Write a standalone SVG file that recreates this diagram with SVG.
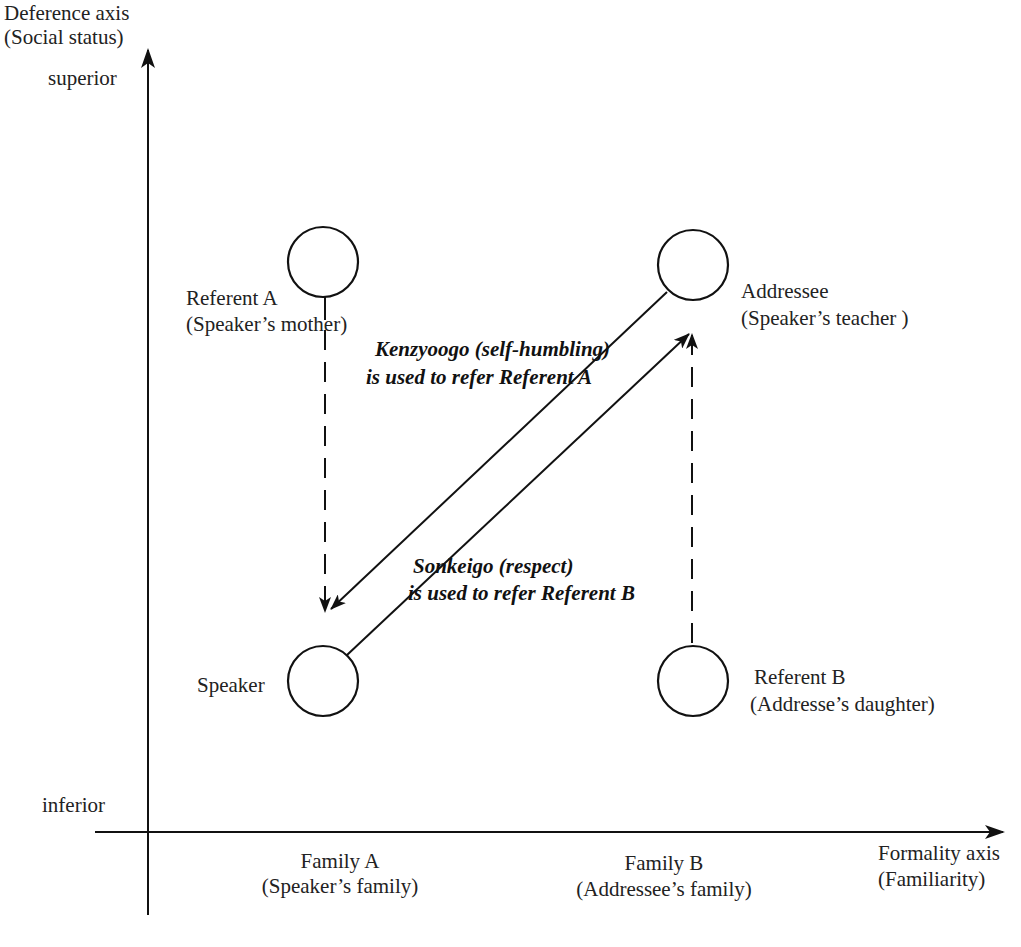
<svg xmlns="http://www.w3.org/2000/svg" width="1021" height="947" viewBox="0 0 1021 947">
<style>
.t{font-family:"Liberation Serif","Times New Roman",serif;font-size:21px;fill:#222}
.b{font-family:"Liberation Serif","Times New Roman",serif;font-size:21px;font-weight:bold;font-style:italic;fill:#111}
.ax{stroke:#111;stroke-width:2;fill:none}
.ln{stroke:#111;stroke-width:2;fill:none}
.ds{stroke:#111;stroke-width:2;fill:none;stroke-dasharray:20 12}
.nd{stroke:#111;stroke-width:2.2;fill:#fff}
</style>
<defs>
<marker id="big" markerWidth="20" markerHeight="14" refX="18" refY="7" orient="auto" markerUnits="userSpaceOnUse">
<path d="M0,0 L20,7 L0,14 L5,7 z" fill="#111"/>
</marker>
<marker id="sm" markerWidth="16" markerHeight="12" refX="15" refY="6" orient="auto" markerUnits="userSpaceOnUse">
<path d="M0,0 L16,6 L0,12 L4,6 z" fill="#111"/>
</marker>
</defs>
<rect width="1021" height="947" fill="#fff"/>
<g id="axes">
<line class="ax" x1="148" y1="915" x2="148" y2="50" marker-end="url(#big)"/>
<line class="ax" x1="95" y1="832" x2="1003" y2="832" marker-end="url(#big)"/>
<text class="t" x="4" y="20">Deference axis</text>
<text class="t" x="4" y="44">(Social status)</text>
<text class="t" x="48" y="85">superior</text>
<text class="t" x="42" y="812">inferior</text>
<text class="t" x="878" y="860">Formality axis</text>
<text class="t" x="878" y="886">(Familiarity)</text>
<text class="t" x="340" y="868" text-anchor="middle">Family A</text>
<text class="t" x="340" y="893" text-anchor="middle">(Speaker’s family)</text>
<text class="t" x="664" y="870" text-anchor="middle">Family B</text>
<text class="t" x="664" y="896" text-anchor="middle">(Addressee’s family)</text>
</g>
<g id="connectors">
<line class="ln" x1="325" y1="297" x2="325" y2="320"/>
<line class="ds" x1="325" y1="330" x2="325" y2="612" marker-end="url(#sm)"/>
<line class="ds" x1="692" y1="643" x2="692" y2="334" marker-end="url(#sm)"/>
<line class="ln" x1="667" y1="292" x2="331" y2="609" marker-end="url(#sm)"/>
<line class="ln" x1="347" y1="655" x2="689" y2="334" marker-end="url(#sm)"/>
<text class="b" x="375" y="356">Kenzyoogo (self-humbling)</text>
<text class="b" x="366" y="384">is used to refer Referent A</text>
<text class="b" x="413" y="573">Sonkeigo (respect)</text>
<text class="b" x="408" y="600">is used to refer Referent B</text>
</g>
<g id="referentA">
<circle class="nd" cx="323" cy="262" r="35"/>
<text class="t" x="186" y="305">Referent A</text>
<text class="t" x="186" y="331">(Speaker’s mother)</text>
</g>
<g id="addressee">
<circle class="nd" cx="693" cy="265" r="35"/>
<text class="t" x="741" y="298">Addressee</text>
<text class="t" x="741" y="325">(Speaker’s teacher )</text>
</g>
<g id="speaker">
<circle class="nd" cx="323" cy="681" r="35"/>
<text class="t" x="197" y="692">Speaker</text>
</g>
<g id="referentB">
<circle class="nd" cx="693" cy="681" r="35"/>
<text class="t" x="754" y="684">Referent B</text>
<text class="t" x="750" y="711">(Addresse’s daughter)</text>
</g>
</svg>
